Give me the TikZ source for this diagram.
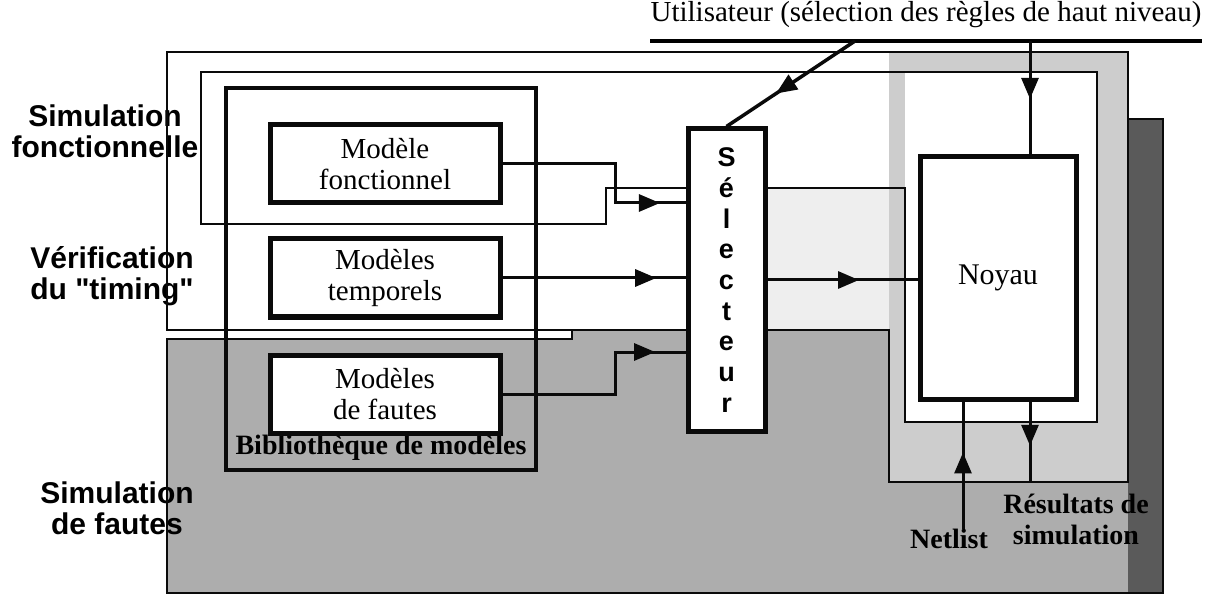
\documentclass[tikz,border=0pt]{standalone}
\usepackage{fontspec}
\setmainfont{Liberation Serif}
\setsansfont{Liberation Sans}
\newfontfamily\sidefont{Liberation Sans}
\usepackage{xcolor}
\definecolor{Ink}{HTML}{0A0A0A}
\definecolor{Paper}{HTML}{FFFFFF}
\definecolor{Speckle}{HTML}{EEEEEE}
\definecolor{DotLight}{HTML}{CDCDCD}
\definecolor{DotMid}{HTML}{ADADAD}
\definecolor{DotDark}{HTML}{5A5A5A}
\usepackage{tikz}
\usetikzlibrary{arrows.meta, decorations.markings}

\begin{document}
\begin{tikzpicture}[x=1pt, y=-1pt,
  zone/.style={draw=Ink, line width=2.2pt},
  lib/.style={rectangle, draw=Ink, line width=4pt, minimum width=310pt, minimum height=382pt},
  model/.style={rectangle, draw=Ink, fill=Paper, line width=5pt,
                minimum width=230pt, minimum height=78pt, align=center,
                font=\fontsize{29}{31}\selectfont},
  block/.style={rectangle, draw=Ink, fill=Paper, line width=5pt, align=center},
  side/.style={font=\sidefont\bfseries\fontsize{30}{31}\selectfont, align=center, inner sep=0pt},
  note/.style={font=\bfseries\fontsize{28}{31}\selectfont, align=center, inner sep=0pt},
  wire/.style={draw=Ink, line width=3pt},
  flow/.style={postaction={decorate}, decoration={markings,
               mark=at position #1 with {\arrow{Triangle[length=21pt, width=17pt]}}}}
]
\useasboundingbox (0,0) rectangle (1227,604);

%% ---- Shaded zones ----
\fill[DotMid] (167,339) -- (572,339) -- (572,330) -- (889,330) -- (889,482)
  -- (1128,482) -- (1128,119) -- (1163,119) -- (1163,593) -- (167,593) -- cycle;
\fill[DotDark] (1128,119) rectangle (1163,593);
\fill[DotLight] (889,52) rectangle (1128,482);
\fill[Speckle] (765,188) rectangle (889,330);
\fill[Paper] (905,72) rectangle (1097,422);

%% ---- Zone labels ----
\node[side] (fonc)   at (105,131) {Simulation\\fonctionnelle};
\node[side] (verif)  at (112,276) {Vérification\\du "timing"};
\node[side] (fautes) at (117,508) {Simulation\\de fautes};

%% ---- Zone outlines ----
\draw[zone] (167,52) -- (1128,52) -- (1128,482) -- (889,482) -- (889,330)
  -- (167,330) -- cycle;
\draw[zone] (201,72) -- (1097,72) -- (1097,422) -- (905,422) -- (905,188)
  -- (606,188) -- (606,224) -- (201,224) -- cycle;
\draw[zone] (572,330) -- (572,339) -- (167,339) -- (167,593) -- (1163,593)
  -- (1163,119) -- (1128,119);

%% ---- Model library ----
\node[lib] (bib) at (381,279) {};
\node[note] (biblbl) at (381,448) {Bibliothèque de modèles};
\node[model] (mf) at (385,164) {Modèle\\fonctionnel};
\node[model] (tm) at (385,278) {Modèles\\temporels};
\node[model] (fa) at (385,394) {Modèles\\de fautes};

%% ---- Selector and kernel ----
\node[block, minimum width=77pt, minimum height=302pt,
      font=\sidefont\bfseries\fontsize{27}{30.7}\selectfont] (sel) at (726.5,280)
      {S\\é\\l\\e\\c\\t\\e\\u\\r};
\node[block, minimum width=156pt, minimum height=242pt,
      font=\fontsize{30}{31}\selectfont] (noyau) at (998,278) {Noyau};

%% ---- User ----
\node[font=\fontsize{29}{31}\selectfont, inner sep=0pt] (user) at (926,15)
      {Utilisateur (sélection des règles de haut niveau)};
\draw[line width=4pt] (user.west |- 0,41) -- (user.east |- 0,41);
\coordinate (usel) at (855,41);
\coordinate (unoy) at (1030,41);

%% ---- Outputs ----
\node[note] (netlist) at (949,539) {Netlist};
\node[note] (result)  at (1076,519) {Résultats de\\simulation};

%% ---- Arrows ----
\coordinate (jf) at (615,203);
\coordinate (jt) at (615,352);
\draw[wire, flow=0.885] (mf.east) -| (jf) -- (sel.west |- jf);
\draw[wire, flow=0.84] (tm.east) -- (sel.west |- tm.east);
\draw[wire, flow=0.865] (fa.east) -| (jt) -- (sel.west |- jt);
\draw[wire, line width=3.5pt, flow=0.615] (usel) -- (sel.north);
\draw[wire, flow=0.51] (unoy) -- (unoy |- noyau.north);
\draw[wire, flow=0.61] (sel.east) -- (sel.east -| noyau.west);
\draw[wire, flow=0.6] ([xshift=14pt]netlist.north) -- ([xshift=14pt]netlist.north |- noyau.south);
\draw[wire, flow=0.55] (unoy |- noyau.south) -- (unoy |- 0,482);

\end{tikzpicture}
\end{document}
